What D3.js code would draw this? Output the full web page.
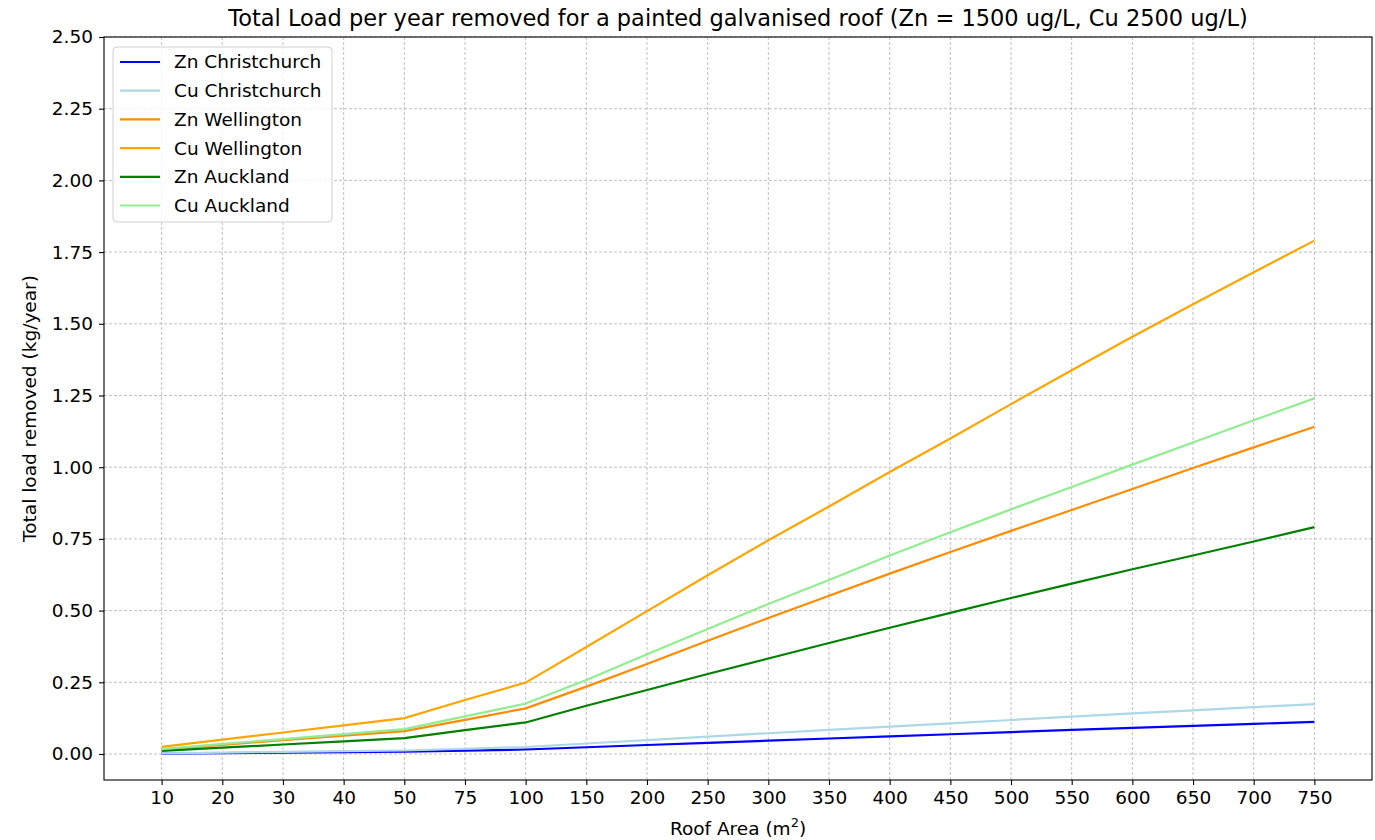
<!DOCTYPE html>
<meta charset="utf-8">
<style>
body { margin: 0; background: #fff; }
text { font-family: "DejaVu Sans", sans-serif; fill: #000; }
.grid line { stroke: #b0b0b0; stroke-dasharray: 3,2; stroke-width: 0.8; }
.axis path, .axis line { stroke: #000; stroke-width: 1.1; }
.axis text { font-size: 18.5px; }
</style>
<svg width="1375" height="840"></svg>
<script src="https://d3js.org/d3.v7.min.js"></script>
<script>

var areas = ["10","20","30","40","50","75","100","150","200","250","300","350","400","450","500","550","600","650","700","750"];

var znChristchurch = [0.0016,0.0031,0.0047,0.0063,0.0078,0.0117,0.0156,0.0235,0.0313,0.0389,0.0466,0.0540,0.0617,0.0689,0.0764,0.0840,0.0911,0.0980,0.1052,0.112];
var cuChristchurch = [0.0024,0.0049,0.0073,0.0097,0.0122,0.0182,0.0243,0.0365,0.0486,0.0605,0.0724,0.0839,0.0957,0.1069,0.1186,0.1304,0.1414,0.1521,0.1633,0.174];
var znWellington = [0.016,0.032,0.048,0.064,0.080,0.119,0.159,0.235,0.314,0.395,0.474,0.552,0.629,0.704,0.778,0.851,0.924,0.997,1.069,1.141];
var cuWellington = [0.025,0.050,0.075,0.100,0.125,0.188,0.249,0.373,0.498,0.623,0.745,0.863,0.983,1.100,1.220,1.338,1.455,1.568,1.680,1.790];
var znAuckland = [0.011,0.022,0.033,0.044,0.055,0.083,0.110,0.168,0.223,0.279,0.333,0.387,0.440,0.492,0.544,0.594,0.644,0.692,0.741,0.791];
var cuAuckland = [0.017,0.035,0.052,0.069,0.087,0.131,0.176,0.258,0.348,0.436,0.523,0.607,0.692,0.773,0.853,0.931,1.009,1.086,1.164,1.240];

var yTicks = [0, 0.25, 0.5, 0.75, 1, 1.25, 1.5, 1.75, 2, 2.25, 2.5];

var series = [
  {name: "Zn Christchurch", color: "blue", values: znChristchurch},
  {name: "Cu Christchurch", color: "lightblue", values: cuChristchurch},
  {name: "Zn Wellington", color: "darkorange", values: znWellington},
  {name: "Cu Wellington", color: "orange", values: cuWellington},
  {name: "Zn Auckland", color: "green", values: znAuckland},
  {name: "Cu Auckland", color: "lightgreen", values: cuAuckland}
];

var svg = d3.select("svg"),
    plotLeft = 104, plotRight = 1372, plotTop = 37, plotBottom = 780;

var x = d3.scalePoint()
    .domain(areas)
    .range([plotLeft, plotRight])
    .padding(0.95);

var y = d3.scaleLinear()
    .domain([-0.0907, 2.5])
    .range([plotBottom, plotTop]);

// grid
var grid = svg.append("g").attr("class", "grid");
grid.selectAll("line.v")
  .data(areas)
  .enter().append("line")
    .attr("x1", function(d) { return x(d); })
    .attr("x2", function(d) { return x(d); })
    .attr("y1", plotTop).attr("y2", plotBottom);
grid.selectAll("line.h")
  .data(yTicks)
  .enter().append("line")
    .attr("x1", plotLeft).attr("x2", plotRight)
    .attr("y1", function(d) { return y(d); })
    .attr("y2", function(d) { return y(d); });

// lines
var line = d3.line()
    .x(function(d, i) { return x(areas[i]); })
    .y(function(d) { return y(d); });

svg.append("g")
  .selectAll("path")
  .data(series)
  .enter().append("path")
    .attr("fill", "none")
    .attr("stroke", function(d) { return d.color; })
    .attr("stroke-width", 2.2)
    .attr("d", function(d) { return line(d.values); });

// frame
svg.append("rect")
    .attr("x", plotLeft).attr("y", plotTop)
    .attr("width", plotRight - plotLeft).attr("height", plotBottom - plotTop)
    .attr("fill", "none").attr("stroke", "#000").attr("stroke-width", 1.1);

// axes
svg.append("g")
    .attr("class", "axis")
    .attr("transform", "translate(0," + plotBottom + ")")
    .call(d3.axisBottom(x).tickSize(5).tickPadding(6))
  .select(".domain").remove();

svg.append("g")
    .attr("class", "axis")
    .attr("transform", "translate(" + plotLeft + ",0)")
    .call(d3.axisLeft(y).tickValues(yTicks).tickFormat(d3.format(".2f")).tickSize(5).tickPadding(6))
  .select(".domain").remove();

// title & labels
svg.append("text")
    .attr("x", (plotLeft + plotRight) / 2)
    .attr("y", 26)
    .attr("text-anchor", "middle")
    .attr("font-size", "22.5px")
    .text("Total Load per year removed for a painted galvanised roof (Zn = 1500 ug/L, Cu 2500 ug/L)");

var xl = svg.append("text")
    .attr("x", (plotLeft + plotRight) / 2)
    .attr("y", 835)
    .attr("text-anchor", "middle")
    .attr("font-size", "18.5px");
xl.append("tspan").text("Roof Area (m");
xl.append("tspan").attr("dy", -8).attr("font-size", "13px").text("2");
xl.append("tspan").attr("dy", 8).text(")");

svg.append("text")
    .attr("transform", "translate(36," + ((plotTop + plotBottom) / 2) + ") rotate(-90)")
    .attr("text-anchor", "middle")
    .attr("font-size", "18.5px")
    .text("Total load removed (kg/year)");

// legend
var legend = svg.append("g").attr("transform", "translate(113,47)");
legend.append("rect")
    .attr("width", 219).attr("height", 175).attr("rx", 4)
    .attr("fill", "#fff").attr("fill-opacity", 0.8)
    .attr("stroke", "#d0d0d0");

var item = legend.selectAll("g.item")
  .data(series)
  .enter().append("g")
    .attr("transform", function(d, i) { return "translate(0," + (15 + i * 28.7) + ")"; });
item.append("line")
    .attr("x1", 7).attr("x2", 47)
    .attr("stroke", function(d) { return d.color; })
    .attr("stroke-width", 2.2);
item.append("text")
    .attr("x", 61).attr("dy", "0.35em")
    .attr("font-size", "18.5px")
    .text(function(d) { return d.name; });

</script>
